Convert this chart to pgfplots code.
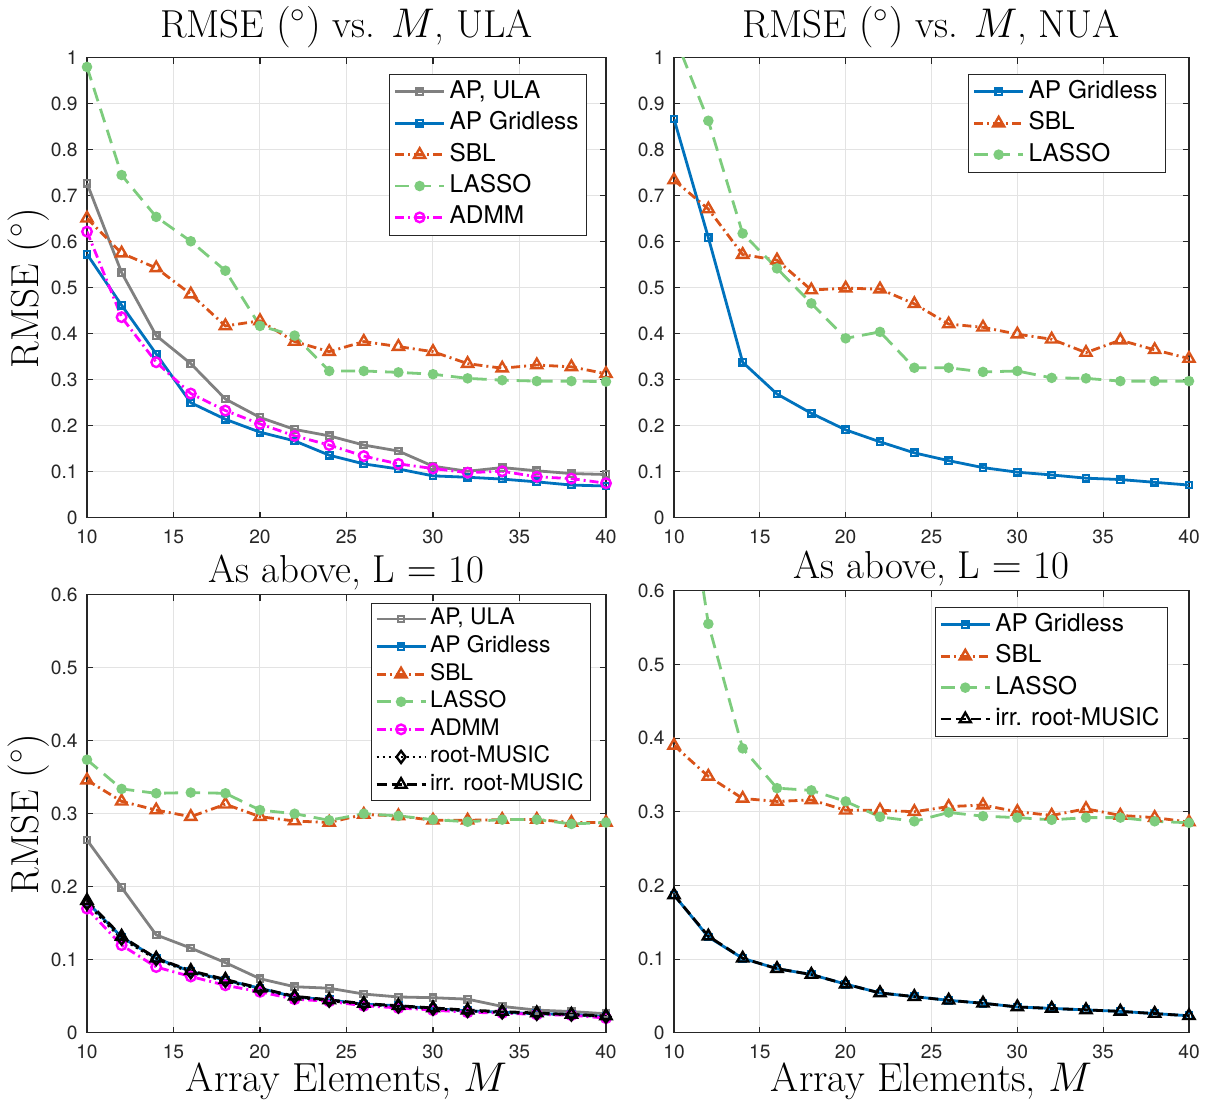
\documentclass[border=0pt]{standalone}
\usepackage{fontspec}
\usepackage{pgfplots}
\pgfplotsset{compat=1.18}
\newfontfamily\hv{TeX Gyre Heros}
\definecolor{grayc}{RGB}{128,128,128}
\definecolor{bluec}{RGB}{0,114,189}
\definecolor{orangec}{RGB}{217,83,25}
\definecolor{greenc}{RGB}{125,204,125}
\definecolor{magc}{RGB}{255,0,255}
\definecolor{axc}{RGB}{38,38,38}
\definecolor{gridc}{RGB}{227,227,227}
\pgfplotsset{
  common/.style={
    scale only axis, xmin=10, xmax=40, ymin=0,
    xtick={10,15,20,25,30,35,40},
    grid=major, major grid style={draw=gridc, line width=0.5pt},
    axis line style={draw=axc, line width=0.55pt},
    tick style={draw=axc, line width=0.55pt},
    major tick length=3pt, tick align=inside,
    tick label style={font=\hv\fontsize{9.6}{11}\selectfont, text=axc, inner sep=0pt},
    /pgf/number format/assume math mode=true,
    xticklabel style={anchor=base, yshift=-12.85pt},
    yticklabel style={anchor=east, xshift=-4.5pt},
    every axis y label/.style={at={(axis description cs:-0.0934,0.5)}, rotate=90, anchor=base, font=\fontsize{19.5}{22}\selectfont},
    every axis x label/.style={at={(axis description cs:0.5,-0.1335)}, anchor=base, font=\fontsize{20.3}{23}\selectfont},
    legend cell align=left,
    legend image code/.code={\draw[mark repeat=2,mark phase=2] plot coordinates {(0pt,0pt)(12.25pt,0pt)(24.5pt,0pt)};},
  },
  toprow/.style={common, height=230pt, ymax=1, ytick={0,0.1,0.2,0.3,0.4,0.5,0.6,0.7,0.8,0.9,1},
    every axis title/.style={at={(axis description cs:0.5,1.0435)}, anchor=base, font=\fontsize{19.5}{22}\selectfont}},
  botrow/.style={common, ymax=0.6, ytick={0,0.1,0.2,0.3,0.4,0.5,0.6},
    every axis title/.style={at={(axis description cs:0.5,1.0274)}, anchor=base, font=\fontsize{19.5}{22}\selectfont}},
  bigleg/.style={legend style={draw=axc, font=\hv\fontsize{12.2}{14}\selectfont,
    inner xsep=2pt, inner ysep=1pt, row sep=0pt, nodes={inner sep=2.05pt, text height=9pt, text depth=2.6pt}}},
  smallleg/.style={legend style={draw=axc, font=\hv\fontsize{11.4}{13}\selectfont,
    inner xsep=2pt, inner ysep=1pt, row sep=0pt, nodes={inner sep=1.55pt, text height=8.3pt, text depth=2.4pt}}},
  apula/.style={color=grayc, solid, line width=1.4pt, mark=square, mark size=1.6pt, mark options={solid, line width=1.2pt}},
  apgl/.style={color=bluec, solid, line width=1.4pt, mark=square, mark size=1.6pt, mark options={solid, line width=1.2pt}},
  sbl/.style={color=orangec, line width=1.4pt, dash pattern=on 4.5pt off 2pt on 1pt off 2pt, mark=triangle, mark size=3.2pt, mark options={solid, line width=1.2pt}},
  lasso/.style={color=greenc, line width=1.4pt, dash pattern=on 7pt off 4pt, mark=*, mark size=1.9pt, mark options={solid}},
  admm/.style={color=magc, line width=1.4pt, dash pattern=on 4.5pt off 2pt on 1pt off 2pt, mark=o, mark size=2.4pt, mark options={solid, line width=1.2pt}},
  rmusic/.style={color=black, line width=1.4pt, dash pattern=on 1.2pt off 1.8pt, mark=diamond, mark size=3pt, mark options={solid, line width=1.2pt}},
  irr/.style={color=black, line width=1.4pt, dash pattern=on 5pt off 2.5pt, mark=triangle, mark size=3.2pt, mark options={solid, line width=1.2pt}},
}
\begin{document}
\begin{tikzpicture}
\path (0,0) rectangle (603pt,548.5pt);
% ---------------- top left
\begin{axis}[toprow, at={(43.5pt,290.5pt)}, anchor=south west, width=259.5pt,
  title={RMSE $(^\circ)$ vs. $M$, ULA}, ylabel={RMSE $(^\circ)$},
  bigleg, legend style={at={(1,1)}, anchor=north east, xshift=-9.5pt, yshift=-8pt}]
\addplot[apula] coordinates {(10,0.727)(12,0.533)(14,0.396)(16,0.335)(18,0.258)(20,0.218)(22,0.192)(24,0.178)(26,0.158)(28,0.145)(30,0.112)(32,0.101)(34,0.109)(36,0.102)(38,0.096)(40,0.094)};
\addlegendentry{AP, ULA}
\addplot[apgl] coordinates {(10,0.573)(12,0.462)(14,0.356)(16,0.250)(18,0.214)(20,0.186)(22,0.167)(24,0.136)(26,0.117)(28,0.106)(30,0.091)(32,0.088)(34,0.084)(36,0.078)(38,0.071)(40,0.069)};
\addlegendentry{AP Gridless}
\addplot[sbl] coordinates {(10,0.651)(12,0.575)(14,0.543)(16,0.486)(18,0.417)(20,0.428)(22,0.383)(24,0.361)(26,0.383)(28,0.372)(30,0.361)(32,0.335)(34,0.325)(36,0.332)(38,0.328)(40,0.313)};
\addlegendentry{SBL}
\addplot[lasso] coordinates {(10,0.980)(12,0.745)(14,0.654)(16,0.601)(18,0.537)(20,0.417)(22,0.396)(24,0.319)(26,0.319)(28,0.316)(30,0.312)(32,0.303)(34,0.299)(36,0.297)(38,0.297)(40,0.296)};
\addlegendentry{LASSO}
\addplot[admm] coordinates {(10,0.622)(12,0.436)(14,0.338)(16,0.270)(18,0.233)(20,0.204)(22,0.178)(24,0.158)(26,0.134)(28,0.117)(30,0.107)(32,0.098)(34,0.101)(36,0.089)(38,0.085)(40,0.075)};
\addlegendentry{ADMM}
\end{axis}
% ---------------- top right
\begin{axis}[toprow, at={(337pt,290.5pt)}, anchor=south west, width=257.5pt,
  title={RMSE $(^\circ)$ vs. $M$, NUA},
  bigleg, legend style={at={(1,1)}, anchor=north east, xshift=-11.5pt, yshift=-8pt}]
\addplot[apgl] coordinates {(10,0.867)(12,0.609)(14,0.338)(16,0.269)(18,0.227)(20,0.191)(22,0.165)(24,0.141)(26,0.124)(28,0.109)(30,0.099)(32,0.093)(34,0.086)(36,0.083)(38,0.077)(40,0.071)};
\addlegendentry{AP Gridless}
\addplot[sbl] coordinates {(10,0.734)(12,0.671)(14,0.572)(16,0.560)(18,0.495)(20,0.499)(22,0.497)(24,0.465)(26,0.421)(28,0.414)(30,0.399)(32,0.388)(34,0.359)(36,0.386)(38,0.365)(40,0.346)};
\addlegendentry{SBL}
\addplot[lasso] coordinates {(10,1.05)(12,0.863)(14,0.618)(16,0.542)(18,0.466)(20,0.390)(22,0.404)(24,0.326)(26,0.326)(28,0.317)(30,0.319)(32,0.304)(34,0.303)(36,0.297)(38,0.297)(40,0.297)};
\addlegendentry{LASSO}
\end{axis}
% ---------------- bottom left
\begin{axis}[botrow, at={(43.5pt,33pt)}, anchor=south west, width=259.5pt, height=219pt,
  title={As above, L $=$ 10}, ylabel={RMSE $(^\circ)$}, xlabel={Array Elements, $M$},
  smallleg, legend style={at={(1,1)}, anchor=north east, xshift=-7.5pt, yshift=-4pt}]
\addplot[apula] coordinates {(10,0.264)(12,0.199)(14,0.134)(16,0.116)(18,0.096)(20,0.074)(22,0.063)(24,0.061)(26,0.053)(28,0.049)(30,0.048)(32,0.046)(34,0.036)(36,0.031)(38,0.029)(40,0.026)};
\addlegendentry{AP, ULA}
\addplot[apgl] coordinates {(10,0.179)(12,0.131)(14,0.102)(16,0.084)(18,0.072)(20,0.061)(22,0.049)(24,0.045)(26,0.039)(28,0.037)(30,0.033)(32,0.030)(34,0.028)(36,0.026)(38,0.025)(40,0.022)};
\addlegendentry{AP Gridless}
\addplot[sbl] coordinates {(10,0.346)(12,0.317)(14,0.305)(16,0.296)(18,0.313)(20,0.296)(22,0.290)(24,0.288)(26,0.299)(28,0.297)(30,0.291)(32,0.291)(34,0.292)(36,0.292)(38,0.288)(40,0.288)};
\addlegendentry{SBL}
\addplot[lasso] coordinates {(10,0.374)(12,0.334)(14,0.328)(16,0.329)(18,0.328)(20,0.305)(22,0.300)(24,0.291)(26,0.300)(28,0.297)(30,0.292)(32,0.289)(34,0.292)(36,0.292)(38,0.286)(40,0.288)};
\addlegendentry{LASSO}
\addplot[admm] coordinates {(10,0.170)(12,0.120)(14,0.090)(16,0.077)(18,0.065)(20,0.056)(22,0.046)(24,0.043)(26,0.037)(28,0.034)(30,0.031)(32,0.028)(34,0.027)(36,0.025)(38,0.024)(40,0.020)};
\addlegendentry{ADMM}
\addplot[rmusic] coordinates {(10,0.177)(12,0.129)(14,0.101)(16,0.083)(18,0.071)(20,0.060)(22,0.049)(24,0.044)(26,0.039)(28,0.036)(30,0.033)(32,0.030)(34,0.028)(36,0.026)(38,0.025)(40,0.022)};
\addlegendentry{root-MUSIC}
\addplot[irr] coordinates {(10,0.181)(12,0.132)(14,0.102)(16,0.085)(18,0.073)(20,0.061)(22,0.050)(24,0.045)(26,0.040)(28,0.037)(30,0.034)(32,0.031)(34,0.029)(36,0.027)(38,0.025)(40,0.023)};
\addlegendentry{irr. root-MUSIC}
\end{axis}
% ---------------- bottom right
\begin{axis}[botrow, at={(337pt,33pt)}, anchor=south west, width=257.5pt, height=221pt,
  title={As above, L $=$ 10}, xlabel={Array Elements, $M$},
  bigleg, legend style={at={(1,1)}, anchor=north east, xshift=-10.5pt, yshift=-8pt}]
\addplot[apgl] coordinates {(10,0.187)(12,0.130)(14,0.101)(16,0.087)(18,0.079)(20,0.066)(22,0.054)(24,0.049)(26,0.044)(28,0.040)(30,0.035)(32,0.033)(34,0.031)(36,0.029)(38,0.026)(40,0.023)};
\addlegendentry{AP Gridless}
\addplot[sbl] coordinates {(10,0.390)(12,0.348)(14,0.318)(16,0.314)(18,0.316)(20,0.302)(22,0.302)(24,0.300)(26,0.307)(28,0.309)(30,0.300)(32,0.295)(34,0.304)(36,0.295)(38,0.292)(40,0.286)};
\addlegendentry{SBL}
\addplot[lasso] coordinates {(10,0.865)(12,0.555)(14,0.386)(16,0.332)(18,0.329)(20,0.314)(22,0.293)(24,0.287)(26,0.299)(28,0.294)(30,0.292)(32,0.289)(34,0.292)(36,0.292)(38,0.287)(40,0.285)};
\addlegendentry{LASSO}
\addplot[irr] coordinates {(10,0.187)(12,0.131)(14,0.101)(16,0.087)(18,0.079)(20,0.066)(22,0.054)(24,0.049)(26,0.044)(28,0.040)(30,0.035)(32,0.033)(34,0.031)(36,0.029)(38,0.026)(40,0.023)};
\addlegendentry{irr. root-MUSIC}
\end{axis}
\end{tikzpicture}
\end{document}
